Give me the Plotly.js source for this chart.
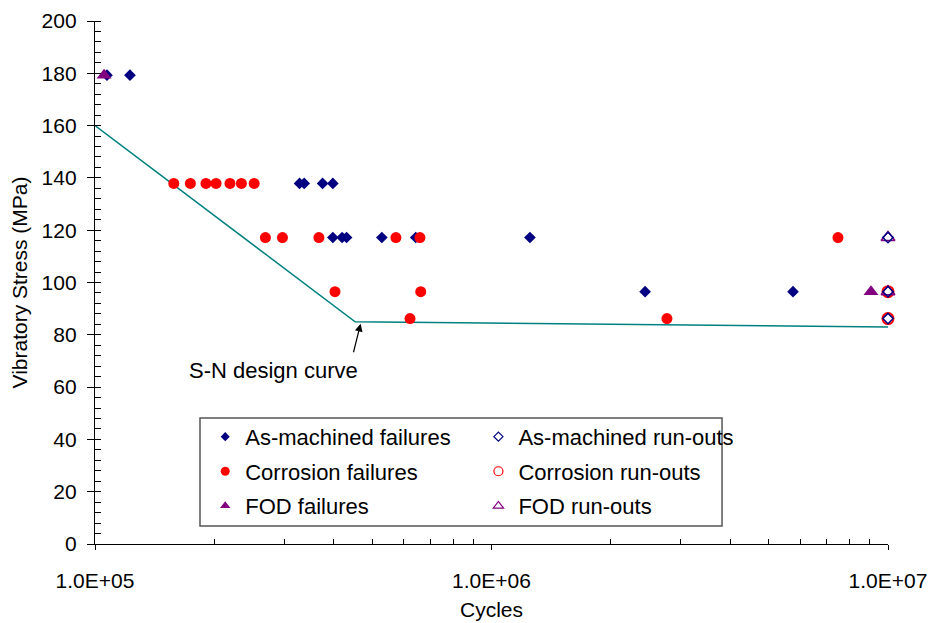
<!DOCTYPE html>
<html>
<head>
<meta charset="utf-8">
<script src="https://cdn.plot.ly/plotly-3.0.1.min.js"></script>
<style>html,body{margin:0;padding:0;background:#fff;}#chart{width:930px;height:623px;}</style>
</head>
<body>
<div id="chart"></div>
<script>
// ---- Data ----
const designCurveX = [1.0e5, 4.53e5, 1.0e7];
const designCurveY = [160, 85, 83];

const amFailX = [1.072e5, 1.225e5, 3.28e5, 3.37e5, 3.75e5, 3.98e5, 3.98e5, 4.20e5, 4.31e5, 5.29e5, 6.44e5, 1.25e6, 2.44e6, 5.76e6];
const amFailY = [179.3, 179.3, 137.9, 137.9, 137.9, 137.9, 117.2, 117.2, 117.2, 117.2, 117.2, 117.2, 96.5, 96.5];

const corrFailX = [1.58e5, 1.74e5, 1.905e5, 2.02e5, 2.19e5, 2.34e5, 2.52e5, 2.69e5, 2.97e5, 3.67e5, 5.74e5, 6.60e5, 7.48e6, 4.03e5, 6.63e5, 6.23e5, 2.77e6];
const corrFailY = [137.9, 137.9, 137.9, 137.9, 137.9, 137.9, 137.9, 117.2, 117.2, 117.2, 117.2, 117.2, 117.2, 96.5, 96.5, 86.2, 86.2];

const fodFailX = [1.054e5, 9.06e6];
const fodFailY = [179.3, 96.5];

const amRunX = [1.0e7, 1.0e7, 1.0e7];
const amRunY = [117.2, 96.5, 86.2];

const corrRunX = [1.0e7, 1.0e7];
const corrRunY = [96.5, 86.2];

const fodRunX = [1.0e7, 1.0e7];
const fodRunY = [117.2, 96.5];

const xTickVals = [1e5, 1e6, 1e7];
const xTickText = ['1.0E+05', '1.0E+06', '1.0E+07'];
const xMinorMantissas = [2, 3, 4, 5, 6, 7, 8, 9];
const xMinorDecades = [1e5, 1e6];

const seriesNames = ['As-machined failures', 'Corrosion failures', 'FOD failures',
                     'As-machined run-outs', 'Corrosion run-outs', 'FOD run-outs'];
const annotationText = 'S-N design curve';

// ---- Styles ----
const NAVY = '#000080', RED = '#FF0000', PURPLE = '#800080', TEAL = '#008080';
const FONT = 'Liberation Sans, Arial, sans-serif';

const xMinorVals = [];
xMinorDecades.forEach(d => xMinorMantissas.forEach(m => xMinorVals.push(m * d)));

const traces = [
  {x: designCurveX, y: designCurveY, mode: 'lines', line: {color: TEAL, width: 1.5}, showlegend: false, hoverinfo: 'skip'},
  {x: amFailX, y: amFailY, mode: 'markers', cliponaxis: false, marker: {symbol: 'diamond', size: 9, color: NAVY}, showlegend: false},
  {x: corrFailX, y: corrFailY, mode: 'markers', cliponaxis: false, marker: {symbol: 'circle', size: 11, color: RED}, showlegend: false},
  {x: fodFailX, y: fodFailY, mode: 'markers', cliponaxis: false, marker: {symbol: 'triangle-up', size: 13, color: PURPLE}, showlegend: false},
  {x: corrRunX, y: corrRunY, mode: 'markers', cliponaxis: false, marker: {symbol: 'circle-open', size: 11, color: RED, line: {width: 2, color: RED}}, showlegend: false},
  {x: fodRunX, y: fodRunY, mode: 'markers', cliponaxis: false, marker: {symbol: 'triangle-up-open', size: 12, color: PURPLE, line: {width: 1.5, color: PURPLE}}, showlegend: false},
  {x: amRunX, y: amRunY, mode: 'markers', cliponaxis: false, marker: {symbol: 'diamond-open', size: 8, color: NAVY, line: {width: 1.5, color: NAVY}}, showlegend: false}
];

// legend-only entries (smaller symbols, as in the reference legend)
const legendDefs = [
  {name: seriesNames[0], legend: 'legend',  marker: {symbol: 'diamond', size: 7, color: NAVY}},
  {name: seriesNames[1], legend: 'legend',  marker: {symbol: 'circle', size: 9, color: RED}},
  {name: seriesNames[2], legend: 'legend',  marker: {symbol: 'triangle-up', size: 9, color: PURPLE}},
  {name: seriesNames[3], legend: 'legend2', marker: {symbol: 'diamond-open', size: 7, color: NAVY, line: {width: 1.2, color: NAVY}}},
  {name: seriesNames[4], legend: 'legend2', marker: {symbol: 'circle-open', size: 9, color: RED, line: {width: 1.2, color: RED}}},
  {name: seriesNames[5], legend: 'legend2', marker: {symbol: 'triangle-up-open', size: 9, color: PURPLE, line: {width: 1.2, color: PURPLE}}}
];
legendDefs.forEach((d, i) => traces.push({
  x: [null], y: [null], mode: 'markers', name: d.name, legend: d.legend,
  legendgroup: 'g' + i, marker: d.marker, showlegend: true
}));

const legendCommon = {
  font: {family: FONT, size: 22, color: '#000'},
  bgcolor: 'rgba(0,0,0,0)', borderwidth: 0,
  yanchor: 'top', xanchor: 'left', y: 0.245, tracegroupgap: 3, orientation: 'v'
};

const layout = {
  width: 930, height: 623,
  margin: {l: 95, r: 42, t: 21, b: 79},
  paper_bgcolor: '#fff', plot_bgcolor: '#fff',
  font: {family: FONT, size: 21, color: '#000'},
  xaxis: {
    type: 'log', range: [5, 7],
    tickmode: 'array', tickvals: xTickVals, ticktext: xTickText,
    ticks: 'outside', ticklen: 5, tickwidth: 1, tickcolor: '#000',
    minor: {tickmode: 'array', tickvals: xMinorVals, ticks: 'inside', ticklen: 5, tickwidth: 1, tickcolor: '#000', showgrid: false},
    showline: true, linecolor: '#000', linewidth: 1.2,
    showgrid: false, zeroline: false,
    tickfont: {family: FONT, size: 21, color: '#000'},
    ticklabelstandoff: 13,
    title: {text: 'Cycles', font: {family: FONT, size: 21, color: '#000'}, standoff: 10}
  },
  yaxis: {
    range: [0, 200], tickmode: 'linear', tick0: 0, dtick: 20,
    ticks: 'outside', ticklen: 7, tickwidth: 1, tickcolor: '#000',
    minor: {dtick: 4, ticks: 'inside', ticklen: 6, tickwidth: 1, tickcolor: '#000', showgrid: false},
    showline: true, linecolor: '#000', linewidth: 1.2,
    showgrid: false, zeroline: false,
    tickfont: {family: FONT, size: 21, color: '#000'},
    ticklabelstandoff: 6,
    title: {text: 'Vibratory Stress (MPa)', font: {family: FONT, size: 21, color: '#000'}, standoff: 8}
  },
  legend: Object.assign({}, legendCommon, {x: 0.139}),
  legend2: Object.assign({}, legendCommon, {x: 0.4835}),
  shapes: [{
    type: 'rect', xref: 'paper', yref: 'paper',
    x0: 0.1324, x1: 0.7907, y0: 0.0344, y1: 0.2409,
    line: {color: '#555', width: 1.5}, fillcolor: 'rgba(0,0,0,0)'
  }],
  annotations: [
    {x: Math.log10(4.69e5), y: 85, xref: 'x', yref: 'y', text: '', showarrow: true,
     arrowhead: 2, arrowsize: 1.3, arrowwidth: 1.2, arrowcolor: '#000', ax: -8, ay: 32, standoff: 2},
    {x: Math.log10(2.82e5), y: 66.3, xref: 'x', yref: 'y', text: annotationText, showarrow: false,
     font: {family: FONT, size: 22, color: '#000'}}
  ],
  showlegend: true
};

Plotly.newPlot('chart', traces, layout, {displayModeBar: false, staticPlot: true});
</script>
</body>
</html>
